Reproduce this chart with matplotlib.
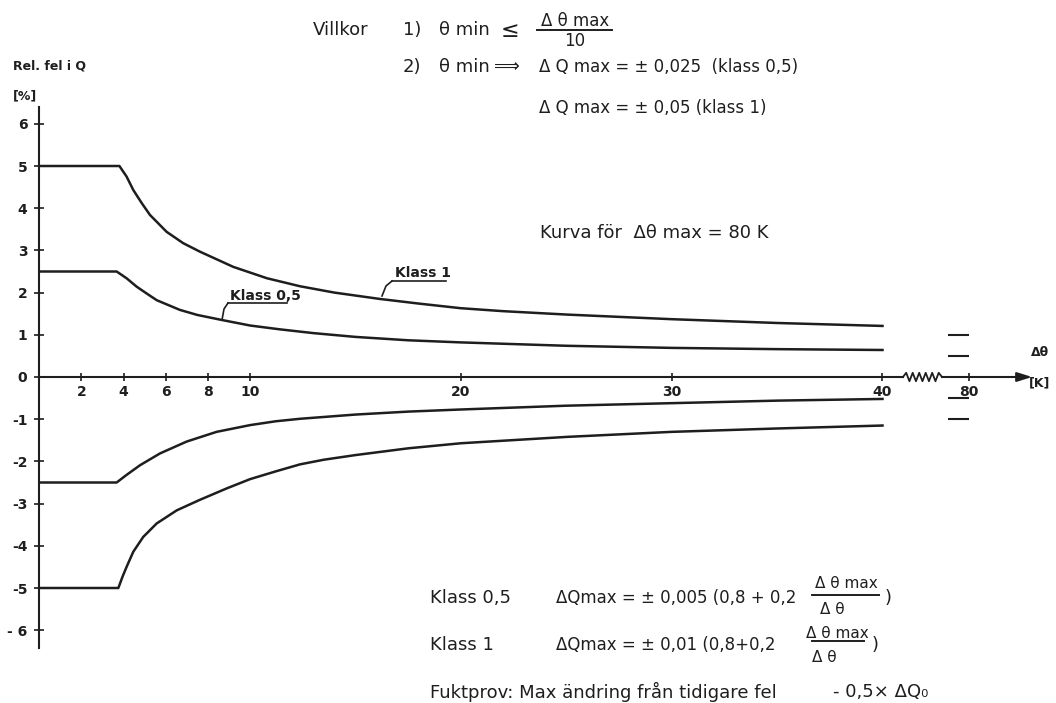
import numpy as np
import matplotlib.pyplot as plt
from matplotlib.lines import Line2D

plt.rcParams['font.family'] = ['DejaVu Sans']
plt.rcParams['axes.unicode_minus'] = False

# upper / lower limit curves, relative error in Q [%] against delta theta [K]
k1_up_x = [0, 3.8, 4.14, 4.46, 4.86, 5.25, 6.04, 6.83, 7.62, 9.2, 10.8, 12.37,
           14, 16.15, 18, 20, 22, 25, 30, 35, 40]
k1_up_y = [5, 5, 4.75, 4.43, 4.12, 3.84, 3.44, 3.17, 2.97, 2.61, 2.34, 2.15,
           2.0, 1.85, 1.74, 1.63, 1.56, 1.48, 1.37, 1.28, 1.21]
k05_up_x = [0, 3.67, 4.14, 4.62, 5.09, 5.57, 6.67, 7.5, 8.67, 10, 11.4, 13,
            15, 17.5, 20, 25, 30, 35, 40]
k05_up_y = [2.5, 2.5, 2.34, 2.14, 1.98, 1.82, 1.59, 1.47, 1.35, 1.22, 1.13, 1.04,
            0.95, 0.87, 0.82, 0.74, 0.69, 0.66, 0.64]
k05_lo_x = [0, 3.67, 4.14, 4.78, 5.73, 6.99, 8.41, 10, 11.2, 12.37, 15, 17.5,
            20, 25, 30, 35, 40]
k05_lo_y = [-2.5, -2.5, -2.32, -2.09, -1.81, -1.53, -1.3, -1.14, -1.05, -0.99,
            -0.89, -0.82, -0.77, -0.68, -0.62, -0.56, -0.52]
k1_lo_x = [0, 3.75, 3.95, 4.14, 4.46, 4.93, 5.57, 6.52, 7.62, 8.89, 10, 11.26,
           12.37, 13.5, 15, 17.5, 20, 25, 30, 35, 40]
k1_lo_y = [-5, -5, -4.73, -4.5, -4.14, -3.79, -3.47, -3.16, -2.91, -2.64, -2.42,
           -2.23, -2.07, -1.96, -1.85, -1.69, -1.57, -1.42, -1.3, -1.22, -1.15]

# limits at delta theta max = 80 K
at_80 = [1.0, 0.5, -0.5, -1.0]

x_ticks = [2, 4, 6, 8, 10, 20, 30, 40]
y_ticks = [-6, -5, -4, -3, -2, -1, 0, 1, 2, 3, 4, 5, 6]
y_labels = ['- 6', '-5', '-4', '-3', '-2', '-1', '0', '1', '2', '3', '4', '5', '6']

INK = '#1e1e1e'
W, H = 1056, 703
X0, XS = 39.3, 21.08   # origin px, px per K
Y0, YS = 377.0, 42.2   # origin px, px per %
X80 = 44.1             # where 80 K sits after the axis break

fig = plt.figure(figsize=(W / 100, H / 100), dpi=100)
ax = fig.add_axes([0, 0, 1, 1])
ax.set_xlim(-X0 / XS, (W - X0) / XS)
ax.set_ylim(-(H - Y0) / YS, Y0 / YS)
ax.patch.set_alpha(0)

for s in ['top', 'right']:
    ax.spines[s].set_visible(False)
ax.spines['left'].set_position(('data', 0))
ax.spines['bottom'].set_position(('data', 0))
ax.spines['left'].set_bounds(-6.42, 6.4)
ax.spines['bottom'].set_bounds(0, 40.97)
for s in ['left', 'bottom']:
    ax.spines[s].set_linewidth(1.5)
    ax.spines[s].set_color(INK)

ax.set_xticks(x_ticks + [X80])
ax.set_xticklabels([str(v) for v in x_ticks] + ['80'])
ax.set_yticks(y_ticks)
ax.set_yticklabels(y_labels)
ax.tick_params(axis='x', direction='inout', length=6, width=1.2, pad=3,
               labelsize=10, colors=INK)
ax.tick_params(axis='y', direction='inout', length=7, width=1.2, pad=5,
               labelsize=10, colors=INK)
for lab in ax.get_xticklabels() + ax.get_yticklabels():
    lab.set_fontweight('bold')

# curves
for xs, ys in [(k1_up_x, k1_up_y), (k05_up_x, k05_up_y),
               (k05_lo_x, k05_lo_y), (k1_lo_x, k1_lo_y)]:
    ax.plot(xs, ys, color=INK, lw=1.8, solid_joinstyle='round')

# axis break, rest of axis and arrow
zx = np.linspace(40.97, 42.82, 13)
zy = np.zeros(13)
zy[1:-1] = np.where(np.arange(1, 12) % 2 == 1, 0.1, -0.1)
ax.plot(zx, zy, color=INK, lw=1.3)
ax.annotate('', xy=(47.1, 0), xytext=(42.82, 0),
            arrowprops=dict(arrowstyle='-|>,head_length=0.9,head_width=0.28',
                            color=INK, lw=1.5, shrinkA=0, shrinkB=0))
ax.hlines(at_80, X80 - 1.0, X80, color=INK, lw=1.5)


def px_line(xs, ys, lw=1.2):
    fig.add_artist(Line2D([x / W for x in xs], [1 - y / H for y in ys],
                          transform=fig.transFigure, color=INK, lw=lw))


def px_text(x, y, s, size=13, ha='left', **kw):
    fig.text(x / W, 1 - y / H, s, size=size, ha=ha, va='center', color=INK, **kw)


# conditions at the top
px_text(313, 30, 'Villkor')
px_text(403, 30, '1)')
px_text(439, 30, 'θ min')
px_text(501, 31, '≤', size=16)
px_text(575, 21, 'Δ θ max', size=12, ha='center')
px_line([537, 612], [30, 30], lw=1.4)
px_text(575, 41, '10', size=12, ha='center')
px_text(403, 67, '2)')
px_text(439, 67, 'θ min')
px_text(494, 67, '⟹')
px_text(539, 67, 'Δ Q max = ± 0,025  (klass 0,5)', size=12)
px_text(539, 108, 'Δ Q max = ± 0,05 (klass 1)', size=12)

# axis titles
px_text(13, 66, 'Rel. fel i Q', size=9, weight='bold')
px_text(13, 96, '[%]', size=9, weight='bold')
px_text(1040, 352, 'Δθ', size=9, ha='center', weight='bold')
px_text(1040, 383, '[K]', size=9, ha='center', weight='bold')

px_text(540, 233, 'Kurva för  Δθ max = 80 K')

# curve labels with leaders
px_text(395, 273, 'Klass 1', size=10, weight='bold')
px_line([392, 446], [281, 281])
px_line([392, 386, 382], [281, 286, 296])
px_text(230, 296, 'Klass 0,5', size=10, weight='bold')
px_line([228, 287], [303, 303])
px_line([228, 224, 222], [303, 309, 320])

# formulas at the bottom
px_text(430, 598, 'Klass 0,5')
px_text(556, 598, 'ΔQmax = ± 0,005 (0,8 + 0,2', size=12)
px_text(846, 583, 'Δ θ max', size=11, ha='center')
px_line([812, 879], [595, 595], lw=1.4)
px_text(832, 609, 'Δ θ', size=11, ha='center')
px_text(885, 598, ')')

px_text(430, 645, 'Klass 1')
px_text(556, 645, 'ΔQmax = ± 0,01 (0,8+0,2', size=12)
px_text(837, 633, 'Δ θ max', size=11, ha='center')
px_line([812, 864], [641, 641], lw=1.4)
px_text(824, 658, 'Δ θ', size=11, ha='center')
px_text(872, 645, ')')

px_text(430, 692, 'Fuktprov: Max ändring från tidigare fel')
px_text(833, 692, '- 0,5× ΔQ₀')

fig.savefig('out.png', dpi=100)
